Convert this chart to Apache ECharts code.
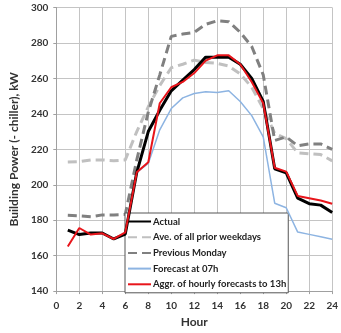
<!DOCTYPE html>
<html>
<head>
<meta charset="utf-8">
<script src="https://cdn.jsdelivr.net/npm/echarts@6/dist/echarts.min.js"></script>
<style>html,body{margin:0;padding:0;background:#fff}#c{width:341px;height:333px}</style>
</head>
<body>
<div id="c"></div>
<script>
var hours = [1,2,3,4,5,6,7,8,9,10,11,12,13,14,15,16,17,18,19,20,21,22,23,24];
var actual = [174.4,171.9,172.8,172.8,169.4,172.2,207,230,242,253,259,265,272,272,272,268,260,247,209,206.7,192.4,189.3,188.5,184.4];
var avePrior = [212.8,213,214,214,213.5,214,230,244,256,266,268,270.3,269,268.5,267,262.5,255,243,229,226,218,217.5,217,213.5];
var prevMonday = [182.8,182.5,182,183,183,183.3,214,241,262,283.7,285,286,290.5,292.5,292,286,278,262,225,227,222,223,223,220];
var forecastHours = [7,8,9,10,11,12,13,14,15,16,17,18,19,20,21,22,23,24];
var forecast07 = [207,212,231,243,249,251.5,252.5,252,253,247,239,227,189.6,187,173.3,172,170.7,169.3];
var aggr13 = [165.2,175.6,171.9,172.6,169.4,173.1,207,212.7,246,255,258,263,270,273,273,268,258,246,209.6,207.4,193.7,192.4,191.1,189.3];
var xTicks = {min:0, max:24, interval:2};
var yTicks = {min:140, max:300, interval:20};

function pairs(xs, ys){ return xs.map(function(x,i){ return [x, ys[i]]; }); }

var font = 'Lato, "Liberation Sans", sans-serif';
var chart = echarts.init(document.getElementById('c'), null, {renderer:'canvas'});
chart.setOption({
  animation:false,
  backgroundColor:'#fff',
  grid:{left:42, right:2, top:7.5, bottom:37, containLabel:false},
  xAxis:{
    type:'value', min:xTicks.min, max:xTicks.max, interval:xTicks.interval,
    name:'Hour', nameLocation:'middle', nameGap:23,
    nameTextStyle:{fontFamily:font, fontWeight:'bold', fontSize:12, color:'#333'},
    axisLine:{show:true, lineStyle:{color:'#a0a0a0', width:1}},
    axisTick:{show:true, length:3, lineStyle:{color:'#a0a0a0'}},
    axisLabel:{fontFamily:font, fontWeight:'bold', fontSize:10, color:'#333', margin:10},
    splitLine:{show:true, lineStyle:{color:'#c4c4c4', width:1}}
  },
  yAxis:{
    type:'value', min:yTicks.min, max:yTicks.max, interval:yTicks.interval,
    name:'Building Power (- chiller), kW', nameLocation:'middle', nameGap:30,
    nameTextStyle:{fontFamily:font, fontWeight:'bold', fontSize:12, color:'#333'},
    axisLine:{show:true, lineStyle:{color:'#a0a0a0', width:1}},
    axisTick:{show:true, length:3, lineStyle:{color:'#a0a0a0'}},
    axisLabel:{fontFamily:font, fontWeight:'bold', fontSize:10, color:'#333', margin:8},
    splitLine:{show:true, lineStyle:{color:'#c4c4c4', width:1}}
  },
  legend:{
    orient:'vertical', left:125, top:213,
    padding:[3,2,3,2],
    itemWidth:23, itemHeight:11, itemGap:4.7,
    backgroundColor:'#fff', borderColor:'#555', borderWidth:1,
    itemStyle:{opacity:0},
    textStyle:{fontFamily:font, fontWeight:'bold', fontSize:9.5, lineHeight:11, color:'#222', padding:[0,0,0,-3]},
    data:['Actual','Ave. of all prior weekdays','Previous Monday','Forecast at 07h','Aggr. of hourly forecasts to 13h']
  },
  series:[
    {name:'Ave. of all prior weekdays', type:'line', data:pairs(hours, avePrior), symbol:'none', color:'#c0c0c0',
     lineStyle:{color:'#c0c0c0', width:3, type:[9,5]}, z:2},
    {name:'Previous Monday', type:'line', data:pairs(hours, prevMonday), symbol:'none', color:'#808080',
     lineStyle:{color:'#808080', width:3, type:[9,5]}, z:3},
    {name:'Forecast at 07h', type:'line', data:pairs(forecastHours, forecast07), symbol:'none', color:'#8db4e2',
     lineStyle:{color:'#8db4e2', width:1.5}, z:4},
    {name:'Actual', type:'line', data:pairs(hours, actual), symbol:'none', color:'#000',
     lineStyle:{color:'#000', width:3}, z:5},
    {name:'Aggr. of hourly forecasts to 13h', type:'line', data:pairs(hours, aggr13), symbol:'none', color:'#e8151b',
     lineStyle:{color:'#e8151b', width:2}, z:6}
  ]
});
</script>
</body>
</html>
